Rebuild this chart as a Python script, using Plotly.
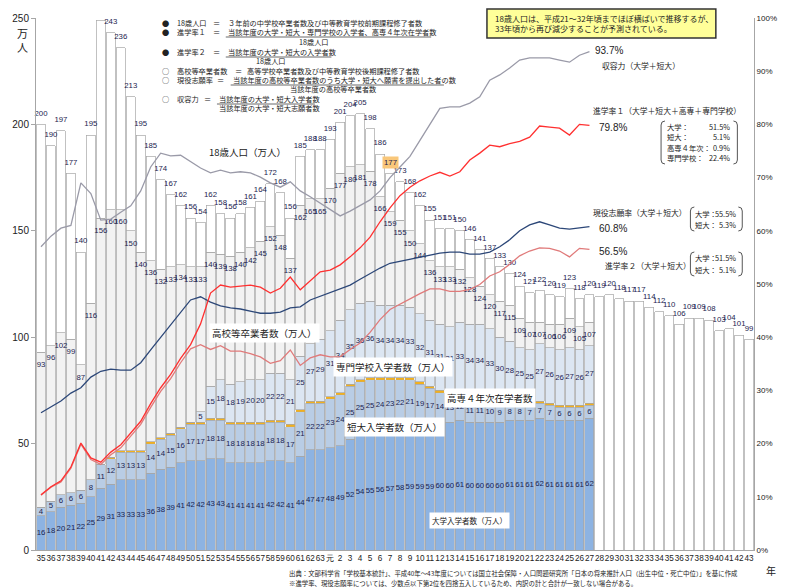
import plotly.graph_objects as go

# ---------------- data ----------------
year_labels = [str(y) for y in range(35, 64)] + ["元"] + [str(y) for y in range(2, 44)]

# 18歳人口 (万人) S35..H43
pop18 = [200, 190, 197, 177, 140, 195, 249, 243, 236, 213, 195, 185, 174, 167, 162, 156, 154, 162, 158, 156,
         158, 161, 164, 172, 168, 156, 185, 188, 188,
         193, 201, 204, 205, 198, 186, 177, 173, 168, 162, 155, 151, 151, 150, 146, 141, 137, 133, 130, 124,
         121, 122, 120, 119, 123, 118, 120,
         119, 120, 118, 117, 117, 114, 112, 110, 106, 109, 109, 108, 103, 104, 101, 99]

# 高校等卒業者数 (万人) S35..H27
grads = [93, 96, 102, 99, 87, 116, 156, 160, 160, 150, 140, 136, 132, 133, 134, 133, 133, 140, 139, 138,
         140, 142, 145, 152, 148, 137, 162, 165, 165,
         170, 177, 180, 181, 178, 166, 159, 155, 150, 144, 136, 133, 133, 132, 128, 124, 120, 117, 115, 109,
         107, 107, 106, 106, 109, 105, 107]

# 大学入学者数
univ = [16, 18, 20, 21, 22, 25, 29, 31, 33, 33, 33, 36, 38, 39, 41, 42, 42, 43, 43, 41, 41, 41, 41, 42, 42,
        41, 44, 47, 47,
        48, 49, 52, 54, 55, 56, 57, 58, 59, 59, 59, 60, 60, 61, 60, 60, 60, 60, 61, 61, 61, 62, 61, 61, 61,
        61, 62]

# 短大入学者数
junior = [4, 5, 6, 6, 6, 8, 11, 12, 13, 13, 13, 14, 14, 15, 16, 17, 17, 18, 18, 18, 18, 18, 18, 18, 18,
          17, 21, 22, 22,
          23, 24, 25, 25, 25, 24, 23, 22, 21, 19, 17, 14, 13, 12, 11, 11, 10, 9, 8, 8, 7, 7, 7, 6, 6, 6, 6]

# 高専4年次在学者数
kosen = [0, 0, 0, 0, 0, 0, 0.3, 0.6, 0.6, 0.6, 0.6, 0.8, 0.8, 0.8, 0.8, 1, 1, 1, 1, 1, 1, 1, 1, 1, 1,
         1, 1, 1, 1,
         1, 1, 1, 1, 1, 1, 1, 1, 1, 1, 1, 1, 1, 1, 1, 1, 1, 1, 1, 1, 1, 1, 1, 1, 1, 1, 1]

# 専門学校入学者数
senmon = [0] * 16 + [5, 15, 18, 18, 19, 20, 20, 22, 22, 21, 25, 27, 29,
                     31, 34, 35, 36, 36, 34, 34, 34, 33, 32, 31, 31, 31, 33, 34, 34, 33, 30, 28, 25, 25, 27,
                     26, 26, 27, 26, 27]

# rates (%)
rate1 = [10.4, 11.9, 13.0, 15.6, 20.1, 17.3, 16.5, 18.4, 19.8, 22.0, 24.2, 27.5, 30.5, 33.0, 36.0, 38.6,
         42.5, 48.3, 49.8, 49.4, 49.6, 49.8, 49.4, 48.3, 49.2, 51.3, 48.9, 50.6, 52.3,
         52.6, 53.6, 55.1, 56.8, 58.8, 61.7, 64.3, 66.6, 68.2, 69.4, 70.3, 71.0, 70.3, 71.1, 73.3, 74.6,
         76.1, 75.8, 76.4, 76.8, 77.6, 79.7, 79.5, 79.3, 78.0, 80.0, 79.8]
rate2 = [10.3, 11.8, 12.8, 15.4, 19.9, 17.0, 16.1, 17.9, 19.2, 21.4, 23.6, 26.8, 29.8, 32.2, 35.2, 37.8,
         38.6, 37.7, 38.4, 37.4, 37.4, 36.9, 36.3, 35.1, 35.6, 37.6, 34.7, 36.1, 36.7,
         36.3, 36.3, 37.7, 38.9, 40.9, 43.3, 45.2, 46.2, 47.3, 48.2, 49.1, 49.1, 48.6, 48.6, 49.0, 49.9,
         51.5, 52.3, 53.7, 55.3, 56.2, 56.8, 56.7, 56.2, 55.1, 56.7, 56.5]
apply_rate = [25.8, 26.9, 28.0, 29.5, 30.5, 32.5, 33.6, 34.0, 33.8, 33.8, 35.2, 37.6, 40.0, 42.3, 44.7,
              47.0, 47.6, 46.6, 45.9, 45.5, 45.3, 44.9, 44.5, 44.5, 44.7, 45.5, 45.7, 47.0, 47.7,
              48.3, 49.0, 49.8, 50.9, 52.0, 53.0, 53.9, 54.3, 54.7, 55.1, 55.5, 55.8, 56.0, 56.0, 55.6,
              55.6, 56.0, 57.0, 58.3, 60.0, 61.1, 61.7, 61.1, 60.5, 60.3, 60.5, 60.8]
capacity = [57.0, 59.0, 60.5, 61.0, 69.0, 67.0, 62.0, 62.2, 63.5, 64.7, 67.5, 72.0, 74.6, 74.1, 74.2,
            73.0, 71.8, 70.9, 71.4, 70.9, 71.1, 70.9, 70.1, 69.0, 68.2, 69.2, 67.5, 66.4, 65.2,
            64.1, 62.8, 63.7, 64.7, 65.8, 67.5, 70.0, 72.0, 74.0, 77.0, 80.0, 83.0, 83.3, 83.3, 84.0,
            85.2, 88.3, 89.3, 90.6, 92.1, 92.5, 92.5, 92.5, 92.1, 91.7, 93.0, 93.7]

pct_ticks = list(range(0, 101, 10))
pct_ticktext = [f"{v}%" for v in pct_ticks]

# ---------------- derived ----------------
n_all = len(pop18)
n_hist = len(grads)
x_all = list(range(n_all))
x_hist = list(range(n_hist))
grads_rest = [g - (u + j + k + s) for g, u, j, k, s in zip(grads, univ, junior, kosen, senmon)]
pop_rest = [pop18[i] - grads[i] if i < n_hist else pop18[i] for i in x_all]

# ---------------- pixel helpers (styling only) ----------------
L, R, T, B = 33, 767, 18, 550
def px(x):
    return (x - L) / (R - L)
def py(y):
    return (B - y) / (B - T)

JP = "Noto Sans CJK JP"
NUM = "Liberation Sans"
LBL = "#1c2450"
EDGE = "#a6a6a6"

fig = go.Figure()

def bar(y, color, lw=0.7, xs=None):
    fig.add_trace(go.Bar(x=xs if xs is not None else x_hist, y=y,
                         marker=dict(color=color, line=dict(color=EDGE, width=lw)),
                         showlegend=False, hoverinfo="skip"))

bar(univ, "#8db3e2")
bar(junior, "#b9cde5")
bar(kosen, "#f2b01e", lw=0.2)
bar(senmon, "#dce6f2")
bar(grads_rest, "#f2f2f2")
bar(pop_rest, "#ffffff", xs=x_all)

# lines on right axis
def line(y, color, w=1.3):
    fig.add_trace(go.Scatter(x=x_hist, y=y, mode="lines", line=dict(color=color, width=w),
                             yaxis="y2", showlegend=False, hoverinfo="skip"))

line(capacity, "#9a9aa8")
line(apply_rate, "#2c4778")
line(rate2, "#e07a7a")
line(rate1, "#ff3030")

# value labels
def labels(xs, ys, texts, size=7.8):
    fig.add_trace(go.Scatter(x=xs, y=ys, text=texts, mode="text", textposition="middle center",
                             textfont=dict(family=NUM, size=size, color=LBL),
                             cliponaxis=False, showlegend=False, hoverinfo="skip"))

labels(x_all, [p + 5 for p in pop18], [str(p) for p in pop18])
labels(x_hist, [g - 6 for g in grads], [str(g) for g in grads])
labels(x_hist, [u / 2 for u in univ], [str(u) for u in univ])
labels(x_hist, [u + j / 2 for u, j in zip(univ, junior)], [str(j) for j in junior])
sx = [i for i in x_hist if senmon[i] > 0]
labels(sx, [univ[i] + junior[i] + kosen[i] + senmon[i] / 2 for i in sx], [str(senmon[i]) for i in sx])

ann = []
def A(x, y, text, size=8, family=JP, anchor="left", color="#222", bg=None, **kw):
    d = dict(x=px(x), y=py(y), xref="paper", yref="paper", text=text, showarrow=False,
             xanchor=anchor, yanchor="middle", font=dict(family=family, size=size, color=color))
    if bg:
        d["bgcolor"] = bg
        d["borderpad"] = 2
    d.update(kw)
    ann.append(d)

# highlighted 177 (H7)
h7 = year_labels.index("元") + 6
ann.append(dict(x=h7, y=pop18[h7] + 5, xref="x", yref="y", text=str(pop18[h7]), showarrow=False,
                font=dict(family=NUM, size=7.8, color=LBL), bgcolor="#f9c77a", borderpad=1))

# definitions block
fs = 7.2
A(160, 23, "●", fs); A(175, 23, "18歳人口", fs); A(212, 23, "＝", fs)
A(227, 23, "３年前の中学校卒業者数及び中等教育学校前期課程修了者数", fs)
A(160, 32, "●", fs); A(175, 32, "進学率１", fs); A(212, 32, "＝", fs)
A(227, 32, "当該年度の大学・短大・専門学校の入学者、高専４年次在学者数", fs)
A(317, 42, "18歳人口", fs, anchor="center")
A(160, 52, "●", fs); A(175, 52, "進学率２", fs); A(212, 52, "＝", fs)
A(227, 52, "当該年度の大学・短大の入学者数", fs)
A(273, 61, "18歳人口", fs, anchor="center")
A(160, 71, "○", fs); A(175, 71, "高校等卒業者数", fs); A(234, 71, "＝", fs)
A(247, 71, "高等学校卒業者数及び中等教育学校後期課程修了者数", fs)
A(160, 80, "○", fs); A(175, 80, "現役志願率", fs); A(216, 80, "＝", fs)
A(232, 80, "当該年度の高校等卒業者数のうち大学・短大へ願書を提出した者の数", fs)
A(337, 89, "当該年度の高校等卒業者数", fs, anchor="center")
A(160, 99, "○", fs); A(175, 99, "収容力", fs); A(203, 99, "＝", fs)
A(218, 99, "当該年度の大学・短大入学者数", fs)
A(218, 108, "当該年度の大学・短大志願者数", fs)

shapes = []
def hline(x0, x1, y, color="#444", w=0.8):
    shapes.append(dict(type="line", xref="paper", yref="paper", x0=px(x0), x1=px(x1), y0=py(y), y1=py(y),
                       line=dict(color=color, width=w)))
hline(227, 437, 37)
hline(227, 335, 57)
hline(232, 450, 85)
hline(218, 318, 104)

# yellow note box
shapes.append(dict(type="rect", xref="paper", yref="paper", x0=px(494), x1=px(728), y0=py(38), y1=py(9),
                   fillcolor="#ffff99", line=dict(color="#333", width=1.5), layer="above"))
A(500, 19, "18歳人口は、平成21～32年頃までほぼ横ばいで推移するが、", 8)
A(500, 29, "33年頃から再び減少することが予測されている。", 8)

# right side annotations
A(602, 51, "93.7%", 10, family=NUM)
A(610, 65, "収容力（大学＋短大）", 7.8)
A(600, 110, "進学率１（大学＋短大＋高専＋専門学校）", 7.8)
A(607, 127, "79.8%", 10, family=NUM)
A(600, 213, "現役志願率（大学＋短大）", 7.8)
A(607, 228, "60.8%", 10, family=NUM)
A(607, 251, "56.5%", 10, family=NUM)
A(613, 265, "進学率２（大学＋短大）", 7.8)

def bracket(x0, y0, x1, y1, r=4):
    def P(x, y):
        return f"{px(x)},{py(y)}"
    left = f"M {P(x0 + r, y0)} Q {P(x0, y0)} {P(x0, y0 + r)} L {P(x0, y1 - r)} Q {P(x0, y1)} {P(x0 + r, y1)}"
    right = f"M {P(x1 - r, y0)} Q {P(x1, y0)} {P(x1, y0 + r)} L {P(x1, y1 - r)} Q {P(x1, y1)} {P(x1 - r, y1)}"
    for p in (left, right):
        shapes.append(dict(type="path", xref="paper", yref="paper", path=p, line=dict(color="#555", width=1)))

bs = 7.3
bracket(672, 121, 750, 164)
for yy, lab, val in [(127, "大学：", "51.5%"), (137, "短大：", "5.1%"), (148, "高専４年次：", "0.9%"), (158, "専門学校：", "22.4%")]:
    A(676, yy, lab, bs)
    A(745, yy, val, bs, anchor="right")
bracket(702, 207, 755, 231)
for yy, lab, val in [(214, "大学：", "55.5%"), (225, "短大：", "5.3%")]:
    A(705, yy, lab, bs)
    A(751, yy, val, bs, anchor="right")
bracket(702, 252, 755, 276)
for yy, lab, val in [(258, "大学：", "51.5%"), (270, "短大：", "5.1%")]:
    A(705, yy, lab, bs)
    A(751, yy, val, bs, anchor="right")

# series labels inside chart
A(208, 152, "18歳人口（万人）", 9.5)
A(210, 333, "高校等卒業者数（万人）", 9.5, bg="#ffffff")
A(337, 367, "専門学校入学者数（万人）", 9.5, bg="#ffffff")
A(450, 398, "高専４年次在学者数", 9.5, bg="#ffffff")
A(348, 427, "短大入学者数（万人）", 9.5, bg="#ffffff")
A(435, 520, "大学入学者数（万人）", 7.5, bg="#ffffff")

# footer & axis titles
A(290, 573, "出典：文部科学省「学校基本統計」、平成40年～43年度については国立社会保障・人口問題研究所「日本の将来推計人口（出生中位・死亡中位）」を基に作成", 6.4)
A(290, 583, "※進学率、現役志願率については、少数点以下第2位を四捨五入しているため、内訳の計と合計が一致しない場合がある。", 6.4)
A(777, 570, "年", 10)
A(19, 40, "万<br>人", 11, anchor="center")

fig.update_layout(
    width=789, height=587,
    margin=dict(l=L, r=789 - R, t=T, b=587 - B),
    barmode="stack", bargap=0.1,
    plot_bgcolor="#ffffff", paper_bgcolor="#ffffff",
    font=dict(family=NUM, color="#222"),
    xaxis=dict(range=[-0.5, n_all - 0.5], tickmode="array", tickvals=x_all, ticktext=year_labels,
               tickangle=0, tickfont=dict(size=8.2, family=NUM, color="#222"),
               showline=True, linecolor=EDGE, showgrid=False, zeroline=False, ticks=""),
    yaxis=dict(range=[0, 250], tickvals=[0, 50, 100, 150, 200, 250], showline=True, linecolor=EDGE,
               ticks="outside", ticklen=4, tickcolor=EDGE, showgrid=False, zeroline=False,
               tickfont=dict(size=10, color="#222")),
    yaxis2=dict(range=[0, 100], overlaying="y", side="right", tickmode="array", tickvals=pct_ticks,
                ticktext=pct_ticktext, showline=True, linecolor=EDGE, ticks="", showgrid=False,
                zeroline=False, tickfont=dict(size=8, color="#222")),
    annotations=ann,
    shapes=shapes,
)

fig.write_html("out.html", config={"displayModeBar": False},
               post_script="document.body.style.margin='0';document.body.style.overflow='hidden';")
